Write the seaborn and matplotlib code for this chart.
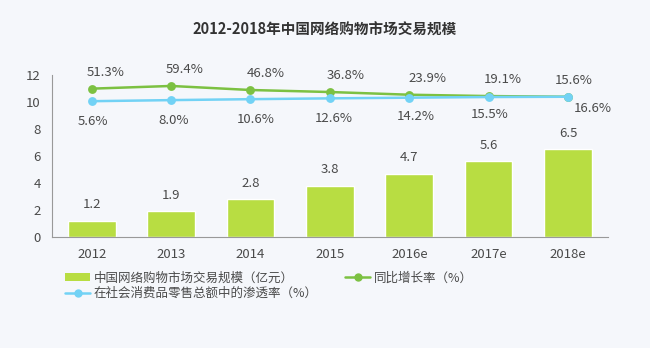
import matplotlib
matplotlib.use("Agg")
import matplotlib.pyplot as plt
import seaborn as sns
import pandas as pd
from matplotlib.lines import Line2D
from matplotlib.patches import Patch

categories = ["2012", "2013", "2014", "2015", "2016e", "2017e", "2018e"]
market_size = [1.2, 1.9, 2.8, 3.8, 4.7, 5.6, 6.5]
growth_pos = [11.0, 11.2, 10.9, 10.75, 10.55, 10.45, 10.4]
growth_labels = ["51.3%", "59.4%", "46.8%", "36.8%", "23.9%", "19.1%", "15.6%"]
penet_pos = [10.07, 10.15, 10.22, 10.28, 10.33, 10.38, 10.4]
penet_labels = ["5.6%", "8.0%", "10.6%", "12.6%", "14.2%", "15.5%", "16.6%"]
yticks = [0, 2, 4, 6, 8, 10, 12]

title = "2012-2018年中国网络购物市场交易规模"
legend_bar = "中国网络购物市场交易规模（亿元）"
legend_growth = "同比增长率（%）"
legend_penet = "在社会消费品零售总额中的渗透率（%）"

# label offsets (points) - layout only
growth_off = [(10, 7), (10, 7), (11, 7), (11, 7), (13, 7), (10, 7), (4, 7)]
penet_off = [(1, -10), (2, -10), (4, -10), (3, -10), (5, -9), (1, -8), (18, -4)]

sns.set_theme(style="white")
plt.rcParams["font.family"] = ["Noto Sans CJK SC", "DejaVu Sans"]

BG = "#f5f7fb"
BAR = "#b8dd42"
GREEN = "#7cc142"
CYAN = "#72d2f5"
TXT = "#4a4a4a"

fig = plt.figure(figsize=(6.5, 3.48), dpi=100, facecolor=BG)
ax = fig.add_axes([0.08, 0.319, 0.855, 0.465])
ax.set_facecolor(BG)

df = pd.DataFrame({"cat": categories, "size": market_size,
                   "growth": growth_pos, "penet": penet_pos})

sns.barplot(data=df, x="cat", y="size", color=BAR, saturation=1, width=0.6, ax=ax)
sns.pointplot(data=df, x="cat", y="growth", color=GREEN, markers="o",
              markersize=5, linewidth=1.8, ax=ax)
sns.pointplot(data=df, x="cat", y="penet", color=CYAN, markers="o",
              markersize=5, linewidth=1.8, ax=ax)

for i, v in enumerate(market_size):
    ax.annotate(f"{v}", (i, v), xytext=(0, 7), textcoords="offset points",
                ha="center", va="bottom", fontsize=9.5, color=TXT)
for i, (v, lab) in enumerate(zip(growth_pos, growth_labels)):
    ax.annotate(lab, (i, v), xytext=growth_off[i], textcoords="offset points",
                ha="center", va="bottom", fontsize=9.5, color=TXT)
for i, (v, lab) in enumerate(zip(penet_pos, penet_labels)):
    ax.annotate(lab, (i, v), xytext=penet_off[i], textcoords="offset points",
                ha="center", va="top", fontsize=9.5, color=TXT)

ax.set_ylim(0, 12)
ax.set_xlim(-0.5, 6.5)
ax.set_yticks(yticks)
ax.set_xlabel("")
ax.set_ylabel("")
ax.tick_params(axis="both", length=0, labelsize=9.5, colors=TXT)
ax.tick_params(axis="x", pad=8)
ax.tick_params(axis="y", pad=8)
for s in ["top", "right"]:
    ax.spines[s].set_visible(False)
ax.spines["left"].set_color("#999999")
ax.spines["bottom"].set_color("#999999")
ax.spines["left"].set_linewidth(0.8)
ax.spines["bottom"].set_linewidth(0.8)

fig.text(0.5, 0.915, title, ha="center", va="center", fontsize=10.5,
         fontweight="bold", color="#333333")

handles = [Patch(facecolor=BAR, edgecolor="none"),
           Line2D([0], [0], color=CYAN, marker="o", markersize=5, lw=1.8),
           Line2D([0], [0], color=GREEN, marker="o", markersize=5, lw=1.8)]
labels = [legend_bar, legend_penet, legend_growth]
fig.legend(handles, labels, loc="upper left", bbox_to_anchor=(0.1, 0.22),
           ncol=2, frameon=False, fontsize=9, handlelength=2.0,
           handletextpad=0.3, labelspacing=0.2, columnspacing=2.2,
           borderaxespad=0, borderpad=0, labelcolor=TXT)

fig.savefig("out.png", dpi=100, facecolor=BG)
